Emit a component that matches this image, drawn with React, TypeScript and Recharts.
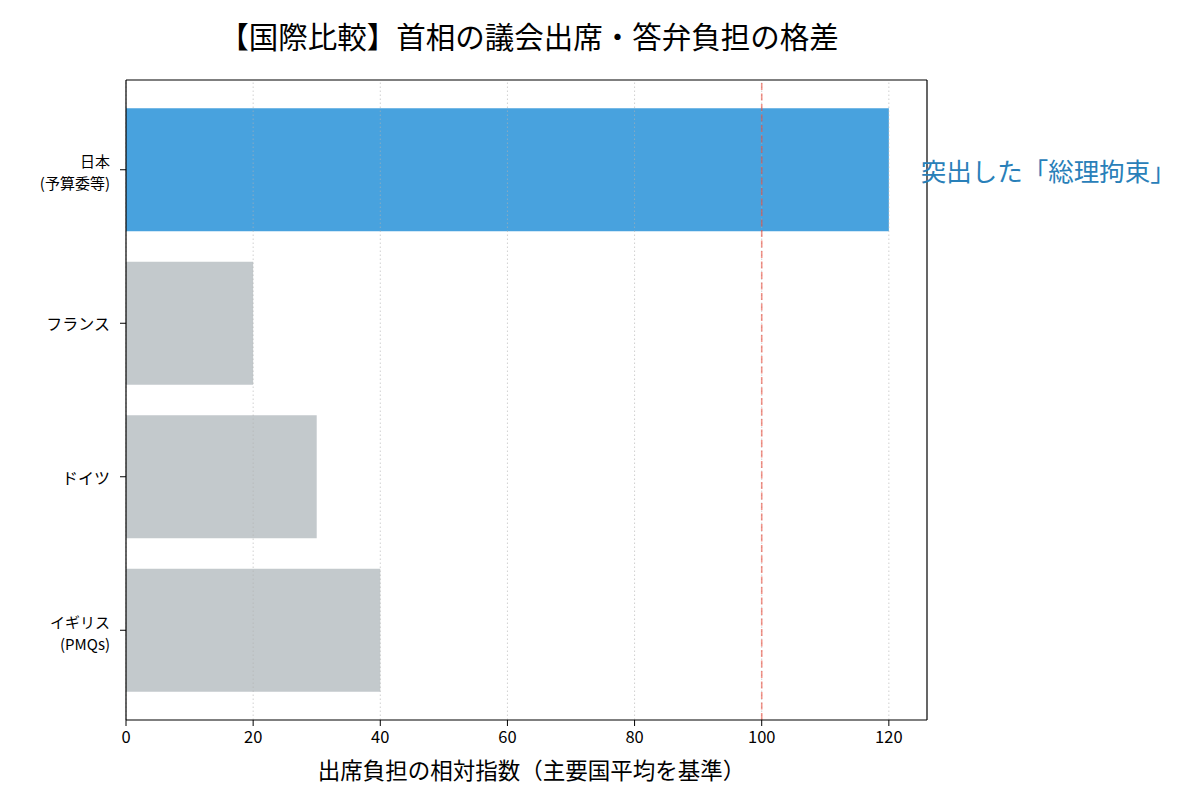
import React from "react";
import {
  BarChart,
  Bar,
  XAxis,
  YAxis,
  Cell,
  ReferenceLine,
  ReferenceDot,
} from "recharts";

const categories = ["日本\n(予算委等)", "フランス", "ドイツ", "イギリス\n(PMQs)"];
const values = [120, 20, 30, 40];
const barColors = ["#48a2de", "#c3c9cc", "#c3c9cc", "#c3c9cc"];
const xTicks = [0, 20, 40, 60, 80, 100, 120];
const xDomain = [0, 126];
const referenceValue = 100;
const annotationX = 125;
const annotationText = "突出した「総理拘束」";
const title = "【国際比較】首相の議会出席・答弁負担の格差";
const xLabel = "出席負担の相対指数（主要国平均を基準）";

const data = categories.map((name, i) => ({ name, value: values[i] }));

const FONT = "'Noto Sans CJK JP', 'Noto Sans', sans-serif";

const YTick = (props: any) => {
  const { x, y, payload } = props;
  const lines = String(payload.value).split("\n");
  const lh = 22;
  const start = lines.length > 1 ? -((lines.length - 1) * lh) / 2 + 2 : 0;
  const fs = lines.length > 1 ? 15 : 16;
  return (
    <g>
      {lines.map((l, i) => (
        <text
          key={i}
          x={x}
          y={y + start + i * lh}
          textAnchor="end"
          dominantBaseline="central"
          fontSize={fs}
          fontFamily={FONT}
          fill="#000"
        >
          {l}
        </text>
      ))}
    </g>
  );
};

const AnnotationLabel = (props: any) => {
  const vb = props.viewBox || {};
  return (
    <text
      x={vb.x}
      y={vb.y}
      fontSize={25.5}
      fontFamily={FONT}
      fill="#2980b9"
      textAnchor="start"
      dominantBaseline="central"
    >
      {annotationText}
    </text>
  );
};

export default function App() {
  return (
    <div
      style={{
        position: "absolute",
        left: 0,
        top: 0,
        width: 1200,
        height: 800,
        background: "#fff",
        fontFamily: FONT,
      }}
    >
      <div
        style={{
          position: "absolute",
          left: 0,
          top: 15,
          width: 1058,
          textAlign: "center",
          fontSize: 29.5,
          lineHeight: "40px",
          color: "#000",
        }}
      >
        {title}
      </div>
      <BarChart
        width={1200}
        height={800}
        data={data}
        layout="vertical"
        margin={{ top: 79, right: 272, left: 0, bottom: 0 }}
        barCategoryGap="10%"
      >
        <XAxis
          type="number"
          dataKey="value"
          domain={xDomain}
          ticks={xTicks}
          allowDataOverflow
          height={80}
          tickSize={6}
          tickMargin={5}
          axisLine={{ stroke: "#000", strokeWidth: 1.2 }}
          tickLine={{ stroke: "#000" }}
          tick={{ fill: "#000", fontSize: 16.5, fontFamily: FONT }}
          label={{
            value: xLabel,
            position: "insideBottom",
            offset: 21,
            dx: 5,
            fill: "#000",
            fontSize: 22.5,
            fontFamily: FONT,
          }}
        />
        <XAxis
          xAxisId="top"
          orientation="top"
          type="number"
          domain={xDomain}
          height={1}
          tick={false}
          tickLine={false}
          axisLine={{ stroke: "#000", strokeWidth: 1.2 }}
        />
        <YAxis
          type="category"
          dataKey="name"
          width={126}
          padding={{ top: 13, bottom: 13 }}
          tickSize={6}
          tickMargin={10}
          axisLine={{ stroke: "#000", strokeWidth: 1.2 }}
          tickLine={{ stroke: "#000" }}
          tick={<YTick />}
          interval={0}
        />
        <YAxis
          yAxisId="right"
          orientation="right"
          type="category"
          dataKey="name"
          width={1}
          tick={false}
          tickLine={false}
          axisLine={{ stroke: "#000", strokeWidth: 1.2 }}
        />
        <Bar dataKey="value" isAnimationActive={false}>
          {data.map((d, i) => (
            <Cell key={d.name} fill={barColors[i]} />
          ))}
        </Bar>
        {xTicks.map((t) => (
          <ReferenceLine
            key={t}
            x={t}
            stroke="#b0b0b0"
            strokeOpacity={0.6}
            strokeWidth={1}
            strokeDasharray="1.5 2.5"
          />
        ))}
        <ReferenceLine
          x={referenceValue}
          stroke="#e74c3c"
          strokeOpacity={0.6}
          strokeWidth={1.6}
          strokeDasharray="7 3.5"
        />
        <ReferenceDot
          x={annotationX}
          y={categories[0]}
          r={0}
          fill="none"
          stroke="none"
          ifOverflow="visible"
          label={<AnnotationLabel />}
        />
      </BarChart>
    </div>
  );
}
